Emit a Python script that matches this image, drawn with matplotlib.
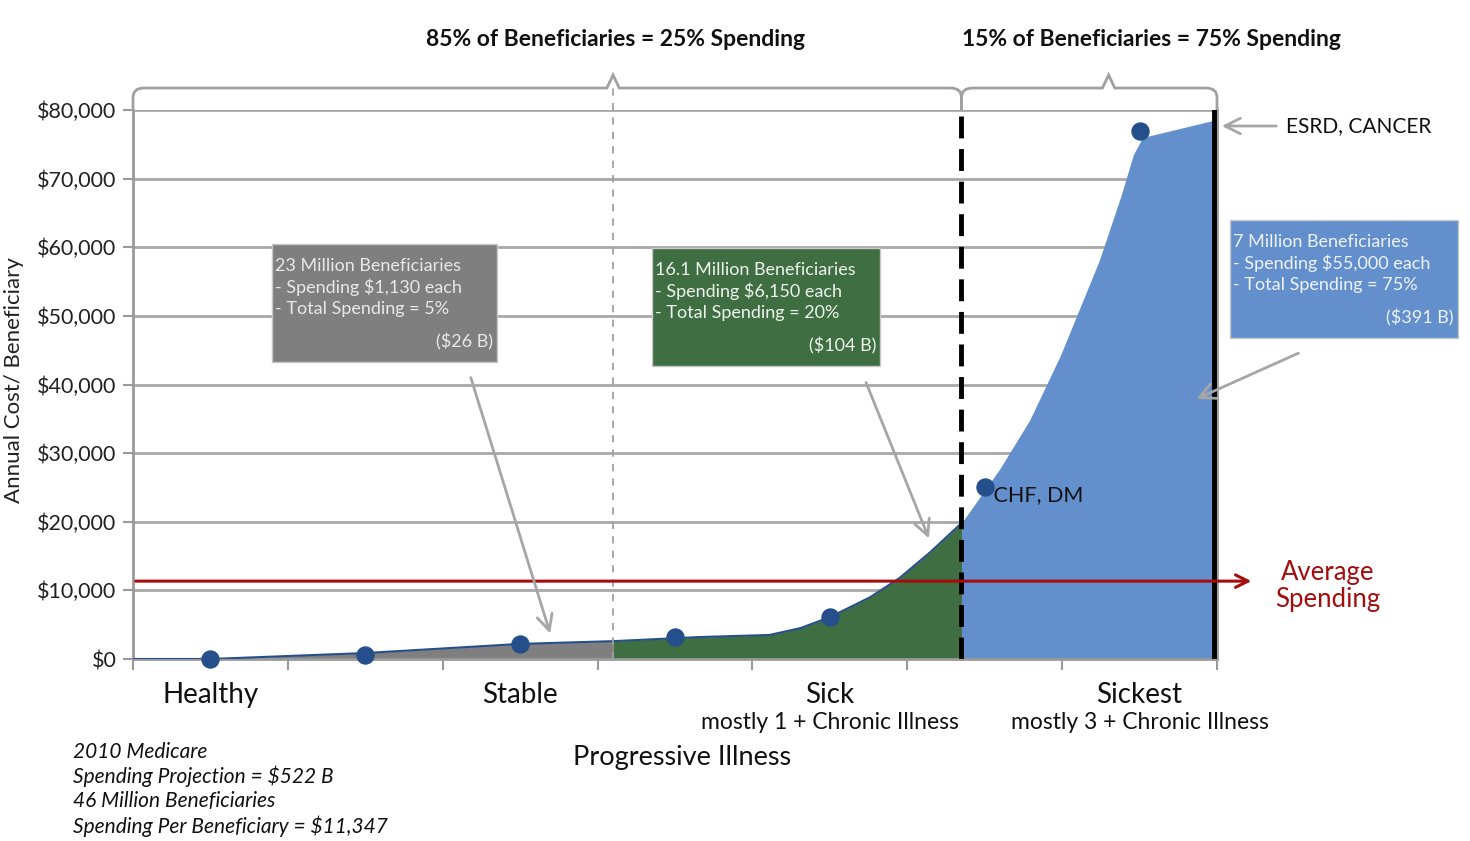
import numpy as np
import matplotlib
matplotlib.use("Agg")
import matplotlib.pyplot as plt
from matplotlib.path import Path
from matplotlib.patches import PathPatch, FancyBboxPatch

plt.rcParams["font.family"] = ["Lato", "DejaVu Sans"]

W, H = 1470, 841

# category points (7 equal bins, labels on every other bin)
dot_x = [0.5, 1.5, 2.5, 3.5, 4.5, 5.5, 6.5]
dot_y = [0, 600, 2200, 3200, 6100, 25000, 77000]
cat_labels = ["Healthy", "", "Stable", "", "Sick", "", "Sickest"]
cat_sub = ["", "", "", "", "mostly 1 + Chronic Illness", "", "mostly 3 + Chronic Illness"]

# spending curve
curve_x = [0, 0.5, 1.5, 2.05, 2.5, 3.1, 3.66, 4.11, 4.31, 4.5, 4.76, 4.95, 5.15,
           5.35, 5.5, 5.6, 5.79, 5.99, 6.24, 6.38, 6.46, 6.52, 6.98]
curve_y = [0, 0, 870, 1600, 2200, 2600, 3200, 3500, 4500, 6100, 9000, 11800, 15600,
           19800, 24600, 27800, 34800, 44300, 58100, 67500, 73500, 76000, 78500]

split_low = 3.1     # 85% / 15% etc
split_high = 5.35
right_edge = 6.98
avg_spend = 11347

y_ticks = np.arange(0, 80001, 10000)

gray_c = "#7f7f7f"
green_c = "#3e6e41"
blue_c = "#6390cd"
dot_c = "#254f8b"
red_c = "#a50d0d"


def px(x, y):
    return x / W, 1 - y / H


fig = plt.figure(figsize=(14.7, 8.41), dpi=100)
ax = fig.add_axes([133 / W, 1 - 659 / H, (1217 - 133) / W, (659 - 110) / H])
ax.set_xlim(0, 7)
ax.set_ylim(0, 80000)

cx = np.array(curve_x)
cy = np.array(curve_y)
m1 = cx <= split_low
m2 = (cx >= split_low) & (cx <= split_high)
m3 = cx >= split_high
ax.fill_between(cx[m1], 0, cy[m1], color=gray_c, lw=0, zorder=2)
ax.fill_between(cx[m2], 0, cy[m2], color=green_c, lw=0, zorder=2)
ax.fill_between(cx[m3], 0, cy[m3], color=blue_c, lw=0, zorder=2)
ax.plot(cx[cx <= split_high], cy[cx <= split_high], color=dot_c, lw=1.5, zorder=3)
ax.scatter(dot_x, dot_y, s=150, color=dot_c, zorder=5, clip_on=False)

# grid
ax.set_yticks(y_ticks)
ax.set_yticklabels(["${:,}".format(v) for v in y_ticks], fontsize=15.5, color="#222222")
ax.set_xticks(np.arange(0, 8))
ax.set_xticklabels([])
ax.grid(axis="y", color="#a8a8a8", lw=2, zorder=1)
ax.set_axisbelow(True)
ax.tick_params(axis="y", length=7, width=1.5, color="#9a9a9a", pad=5)
ax.tick_params(axis="x", length=8, width=1.5, color="#9a9a9a")
ax.spines["top"].set_visible(False)
for s in ["left", "bottom", "right"]:
    ax.spines[s].set_color("#9a9a9a")
    ax.spines[s].set_linewidth(2)

# vertical separators
ax.axvline(split_low, ymin=0, ymax=1.04, color="#a0a0a0", lw=1.3, ls=(0, (4, 4)), zorder=4, clip_on=False)
ax.axvline(split_high, color="black", lw=3.5, ls=(0, (4.5, 2.2)), zorder=4)
ax.axvline(right_edge, color="black", lw=3.5, zorder=4)

# average spending arrow
ax.annotate("", xy=(7.24, avg_spend), xytext=(0, avg_spend),
            arrowprops=dict(arrowstyle="->,head_length=0.9,head_width=0.45", color=red_c, lw=2.2),
            annotation_clip=False, zorder=6)
fig.text(*px(1328, 586), "Average\nSpending", color=red_c, fontsize=18.5, ha="center", va="center",
         linespacing=1.1)


# braces on top
def brace(x0, x1, xp, y0=80000, yb=83200, yp=85100, r=0.07, rr=1400):
    verts = [(x0, y0), (x0, yb - rr), (x0, yb), (x0 + r, yb),
             (xp - 0.04, yb), (xp, yp), (xp + 0.04, yb),
             (x1 - r, yb), (x1, yb), (x1, yb - rr), (x1, y0)]
    codes = [Path.MOVETO, Path.LINETO, Path.CURVE3, Path.CURVE3,
             Path.LINETO, Path.LINETO, Path.LINETO,
             Path.LINETO, Path.CURVE3, Path.CURVE3, Path.LINETO]
    ax.add_patch(PathPatch(Path(verts, codes), fc="none", ec="#a0a0a0", lw=2, clip_on=False, zorder=3))


brace(0, split_high, split_low)
brace(split_high, 7.0, 6.3)

fig.text(*px(615, 40), "85% of Beneficiaries = 25% Spending", fontsize=16.5, fontweight="bold",
         ha="center", va="center", color="#111111")
fig.text(*px(1151, 40), "15% of Beneficiaries = 75% Spending", fontsize=16.5, fontweight="bold",
         ha="center", va="center", color="#111111")

# category labels
for xv, lab, sub in zip(dot_x, cat_labels, cat_sub):
    if lab:
        ax.text(xv, -5300, lab, fontsize=20, ha="center", va="center", color="#111111")
    if sub:
        ax.text(xv, -9300, sub, fontsize=16.5, ha="center", va="center", color="#111111")
fig.text(*px(682, 757), "Progressive Illness", fontsize=19.5, ha="center", va="center", color="#111111")
fig.text(*px(14, 380), "Annual Cost/ Beneficiary", fontsize=16, rotation=90, ha="center",
         va="center", color="#222222")

# footnote
notes = ["2010 Medicare", "Spending Projection = $522 B", "46 Million Beneficiaries",
         "Spending Per Beneficiary = $11,347"]
for i, t in enumerate(notes):
    fig.text(*px(73, 752 + i * 24.7), t, fontsize=15, style="italic", ha="left", va="center",
             color="#111111")


# info boxes
def info_box(x0, y0, x1, y1, color, lines, total, tcolor):
    fx0, fy1 = px(x0, y0)
    fx1, fy0 = px(x1, y1)
    fig.patches.append(FancyBboxPatch((fx0, fy0), fx1 - fx0, fy1 - fy0, boxstyle="square,pad=0",
                                      fc=color, ec="#c8c8c8", lw=1, transform=fig.transFigure,
                                      figure=fig, zorder=10))
    for i, t in enumerate(lines):
        fig.text(*px(x0 + 3, y0 + 22 + i * 21.5), t, fontsize=13, color=tcolor, ha="left",
                 va="center", zorder=11)
    fig.text(*px(x1 - 4, y1 - 20), total, fontsize=13, color=tcolor, ha="right", va="center",
             zorder=11)


info_box(272, 244, 497, 362, gray_c,
         ["23 Million Beneficiaries", "- Spending $1,130 each", "- Total Spending = 5%"],
         "($26 B)", "#e8e8e8")
info_box(652, 248, 880, 366, green_c,
         ["16.1 Million Beneficiaries", "- Spending $6,150 each", "- Total Spending = 20%"],
         "($104 B)", "#eef3ee")
info_box(1230, 220, 1458, 338, blue_c,
         ["7 Million Beneficiaries", "- Spending $55,000 each", "- Total Spending = 75%"],
         "($391 B)", "#eef3fb")

# gray pointer arrows
arrow_kw = dict(arrowstyle="->,head_length=0.8,head_width=0.4", color="#a6a6a6", lw=2)
for (xa, ya), (xb, yb) in [((470, 375), (551, 636)), ((865, 380), (930, 541)),
                           ((1301, 352), (1194, 400)), ((1279, 126), (1219, 126))]:
    fig.add_artist(matplotlib.patches.FancyArrowPatch(px(xa, ya), px(xb, yb), transform=fig.transFigure,
                                                      **arrow_kw, mutation_scale=14, zorder=9))

fig.text(*px(1286, 126), "ESRD, CANCER", fontsize=15, ha="left", va="center", color="#111111")
ax.text(5.52, 25300, " CHF, DM", fontsize=15.5, ha="left", va="top", color="#111111", zorder=7)

fig.savefig("out.png", dpi=100)
